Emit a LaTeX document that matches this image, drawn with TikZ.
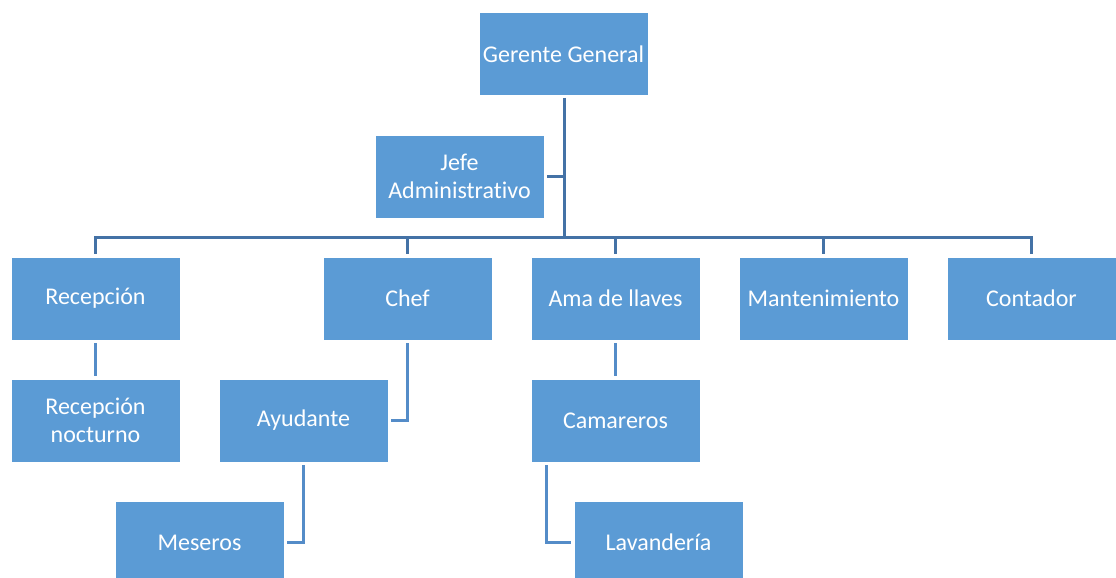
\documentclass[tikz,border=0pt]{standalone}
\usepackage{fontspec}
\setmainfont[Ligatures=NoCommon]{Carlito}
\definecolor{boxblue}{RGB}{91,155,213}
\definecolor{busblue}{RGB}{68,114,166}
\definecolor{linkblue}{RGB}{84,140,200}

\begin{document}
\begin{tikzpicture}[
    x=1pt,y=-1pt,
    unit/.style={rectangle,fill=boxblue,draw=white,line width=0.6pt,minimum width=169pt,minimum height=83pt,
        text=white,font=\fontsize{24}{28}\selectfont,align=center,inner sep=2pt},
    bus/.style={draw=busblue,line width=3pt},
    link/.style={draw=linkblue,line width=3pt,shorten <=3pt,shorten >=3pt}
]
    \clip (0,0) rectangle (1116,578);
    \fill[white] (0,0) rectangle (1116,578);

    % Top of the chart
    \node[unit] (GG) at (563.5,54) {Gerente General};
    \node[unit] (JA) at (459.5,176.5) {Jefe\\Administrativo};

    % Departments
    \node[unit] (Rec) at (95.5,298.5) {Recepción};
    \node[unit] (Chef) at (407.5,298.5) {Chef};
    \node[unit] (Ama) at (615.5,298.5) {Ama de llaves};
    \node[unit] (Man) at (823.5,298.5) {Mantenimiento};
    \node[unit] (Con) at (1031.5,298.5) {Contador};

    % Staff under each department
    \node[unit] (RecN) at (95.5,420.5) {Recepción\\nocturno};
    \node[unit] (Ayu) at (303.5,420.5) {Ayudante};
    \node[unit] (Cam) at (615.5,420.5) {Camareros};
    \node[unit] (Mes) at (199.5,542.5) {Meseros};
    \node[unit] (Lav) at (658.5,542.5) {Lavandería};

    % Main bus
    \coordinate (trunk) at (564,237);
    \draw[bus,shorten <=2pt] (GG.south -| trunk) -- (trunk);
    \draw[bus,shorten <=3pt] (JA.east) -- (JA.east -| trunk);
    \foreach \d in {Rec,Chef,Ama,Man,Con}
        \draw[bus,shorten <=3pt] (\d.north) |- (trunk);

    % Lower links
    \draw[link] (Rec.south) -- (RecN.north);
    \draw[link] (Chef.south) |- (Ayu.east);
    \draw[link] (Ayu.south) |- (Mes.east);
    \draw[link] (Ama.south) -- (Cam.north);
    \draw[link] ([xshift=16pt]Cam.south west) |- (Lav.west);
\end{tikzpicture}
\end{document}
